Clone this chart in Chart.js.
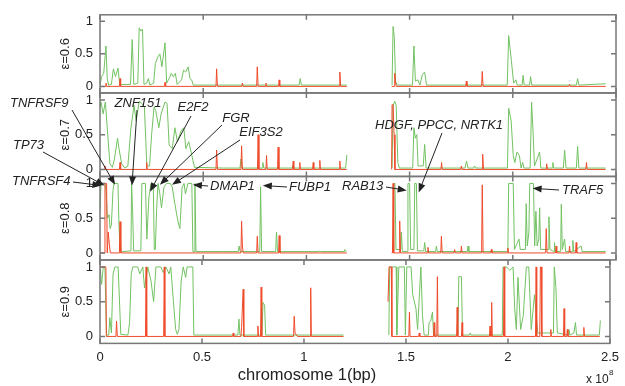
<!DOCTYPE html>
<html>
<head>
<meta charset="utf-8">
<script src="https://cdn.jsdelivr.net/npm/chart.js@4"></script>
<style>
  body { margin: 0; background: #fff; }
  #wrap { position: relative; width: 625px; height: 386px; }
  #wrap canvas { position: absolute; left: 0; top: 0; }
</style>
</head>
<body>
<div id="wrap">
  <canvas id="c06" width="625" height="386"></canvas>
  <canvas id="c07" width="625" height="386"></canvas>
  <canvas id="c09" width="625" height="386"></canvas>
  <canvas id="c08" width="625" height="386"></canvas>
</div>
<script>
// positions in Mb along chromosome 1, values are the plotted fraction
// null marks the centromere gap
const green06 = [[0,0.02],[0.8,0.15],[1.8,0.2],[2.9,0.62],[3.5,0.12],[4.2,0.02],[5.5,0.03],[6.5,0.27],[7.5,0.15],[8.7,0.28],[9.6,0.03],[14.8,0.03],[15.6,0.72],[16.4,0.03],[18.3,0.05],[19.0,0.9],[19.8,0.85],[20.6,0.88],[21.3,0.03],[22.6,0.05],[23.4,0.12],[24.2,0.02],[26.0,0.05],[26.8,0.35],[28,0.45],[29,0.5],[30,0.3],[31.5,0.67],[32.3,0.05],[33.5,0.12],[34.5,0.2],[35.5,0.15],[36.5,0.2],[37.4,0.03],[39.5,0.1],[40.5,0.25],[41.5,0.22],[42.7,0.3],[43.6,0.12],[44.4,0.1],[45.2,0.02],[96.5,0.02],[97,0.12],[97.6,0.02],[119.6,0.02],[130,null],
  [141.5,0.02],[142,0.92],[142.6,0.75],[143.2,0.08],[144,0.02],[151.4,0.02],[152.1,0.62],[152.8,0.08],[154,0.1],[155,0.02],[156.2,0.18],[157.3,0.22],[158.2,0.02],[197.3,0.02],[198,0.78],[199.3,0.4],[200.4,0.05],[201.5,0.1],[202.2,0.02],[204.5,0.02],[205,0.17],[205.5,0.02],[208.1,0.02],[208.6,0.15],[209.2,0.02],[230.8,0.02],[231.4,0.12],[232,0.02],[245,0.04]];
const red06 = [[0,0],[2.6,0],[2.9,0.05],[3.2,0],[9.4,0],[9.7,0.12],[10,0],[31.2,0],[31.5,0.06],[31.8,0],[56.2,0],[56.5,0.27],[56.9,0],[68.7,0],[69,0.05],[69.3,0],[75.9,0],[76.2,0.3],[76.6,0],[80.1,0],[80.4,0.05],[80.7,0],[86.5,0],[86.8,0.1],[87.1,0],[115.9,0],[116.2,0.22],[116.6,0],[119.6,0],[130,null],
  [141.3,0],[142.5,0],[142.8,0.2],[143.2,0.05],[143.6,0],[177.2,0],[177.5,0.08],[177.8,0],[184.9,0],[185.2,0.23],[185.6,0],[227.2,0],[227.5,0.03],[227.8,0],[245,0]];

const green07 = [[0,0.9],[0.5,0.97],[1.5,0.8],[2.6,0.97],[3.5,0.6],[4.8,0.08],[6,0.03],[7,0.15],[8.5,0.45],[9.2,0.3],[10.5,0.08],[12,0.02],[13.5,0.05],[15,0.6],[16.5,0.92],[17.5,0.7],[19,0.98],[20.3,0.95],[21.5,0.9],[22.7,0.05],[24,0.05],[25,0.5],[26.2,0.9],[27,0.85],[28.5,0.6],[29.6,0.8],[31.5,0.97],[32.5,0.95],[33.5,0.35],[35,0.3],[36.3,0.6],[37.5,0.4],[39.2,0.55],[40.6,0.6],[41.6,0.3],[43,0.4],[44.5,0.2],[45.8,0.03],[60,0.02],[67.8,0.02],[68.3,0.15],[68.8,0.02],[78.5,0.02],[78.9,0.1],[79.4,0.02],[93,0.02],[93.5,0.06],[94,0.02],[119,0.02],[119.6,0.21],[130,null],
  [141.5,0.02],[142,0.92],[142.8,0.98],[143.5,0.92],[144.3,0.1],[145,0.02],[151.5,0.02],[152.1,0.6],[152.8,0.45],[153.5,0.5],[154.1,0.05],[156.6,0.05],[157.3,0.36],[158,0.02],[176.8,0.02],[177.6,0.12],[178.3,0.02],[181,0.02],[181.5,0.05],[182,0.02],[197.4,0.02],[198,0.88],[199.2,0.7],[200.2,0.2],[201,0.1],[202,0.25],[203.2,0.2],[204,0.02],[204.8,0.1],[205.4,0.02],[208.4,0.02],[209.1,0.97],[209.8,0.55],[210.5,0.05],[213,0.25],[213.6,0.02],[219,0.02],[219.4,0.1],[219.9,0.02],[224.5,0.02],[225.1,0.28],[225.8,0.02],[230.8,0.02],[231.4,0.33],[232,0.02],[245,0.02]];
const red07 = [[0,0],[2.1,0],[2.4,0.05],[2.7,0],[9.4,0],[9.7,0.1],[10,0],[22.3,0],[22.6,0.1],[22.9,0],[56.2,0],[56.5,0.28],[56.9,0],[68.3,0],[68.6,0.34],[69,0],[76.3,0],[76.6,0.5],[77,0],[80.4,0],[80.7,0.2],[81,0],[86,0],[86.3,0.32],[86.7,0],[93.3,0],[93.6,0.12],[93.9,0],[96.5,0],[96.8,0.1],[97.1,0],[103,0],[103.3,0.1],[103.6,0],[106.2,0],[106.5,0.13],[106.8,0],[115.9,0],[116.2,0.12],[116.5,0],[119.6,0],[130,null],
  [141.3,0],[141.5,0.93],[142,0.93],[142.5,0.5],[142.9,0],[165.2,0],[165.5,0.1],[165.8,0],[174.8,0],[175.1,0.05],[175.4,0],[185.1,0],[185.4,0.22],[185.8,0],[216.1,0],[216.4,0.08],[216.7,0],[235.4,0],[235.7,0.1],[236,0],[245,0]];

const green08 = [[0,0.6],[0.5,1],[2.4,1],[2.9,0.9],[3.6,0.5],[4.4,0.55],[4.9,0.35],[5.5,0.4],[6.3,0.9],[6.8,1],[8.7,1],[9.2,0.4],[9.7,0.05],[11,0.02],[15,0.03],[15.3,1],[15.8,0.6],[16.3,0.03],[19.8,0.03],[20.3,1],[22,1],[22.7,0.2],[23.7,0.8],[24.7,1],[25.8,1],[26.3,0.05],[26.8,0.05],[27.4,0.6],[28.1,1],[29,0.85],[29.8,0.65],[31,0.95],[32.2,1],[34,1],[35,0.95],[36.3,0.7],[37.8,0.45],[38.7,0.35],[39.8,0.95],[40.7,1],[41.4,0.85],[42.6,1],[44.5,1],[45,0.02],[45.8,0.02],[46,1],[46.5,0.02],[60,0.02],[67,0.02],[67.4,0.1],[67.9,0.02],[77.4,0.02],[77.8,0.95],[78.3,0.02],[85.1,0.02],[85.5,0.3],[86,0.02],[106.1,0.02],[106.5,0.03],[106.9,0.02],[118.3,0.02],[118.6,0.05],[119.4,0.02],[130,null],
  [142,0.02],[142.3,1],[142.9,1],[143.4,0.05],[145.7,0.05],[146,0.3],[146.5,0.02],[148.8,0.02],[149.2,1],[150,1],[150.5,0.05],[152.1,0.05],[152.5,1],[153.3,1],[153.8,0.03],[156.9,0.03],[157.3,0.15],[157.8,0.02],[162.6,0.02],[163,0.1],[163.4,0.02],[178,0.02],[178.3,0.1],[178.7,0.02],[197.6,0.02],[198,1],[200.2,1],[200.8,0.05],[203,0.2],[203.6,0.05],[206.1,0.05],[206.5,0.71],[207,0.1],[207.8,0.3],[208.2,1],[210,1],[210.6,0.1],[211.2,0.6],[211.8,0.1],[212.6,0.2],[213,0.65],[213.5,0.05],[217.1,0.05],[217.5,0.52],[218,0.05],[220,0.02],[220.2,0.15],[220.6,0.02],[223.2,0.02],[223.5,0.7],[224,0.05],[225.1,0.2],[225.6,0.02],[228.8,0.02],[229.1,0.18],[229.5,0.02],[233.1,0.1],[233.6,0.02],[245,0.02]];
const red08 = [[0,0],[2,0],[2.4,1],[3.2,1],[3.5,0],[4,0.3],[4.6,0.1],[5,0],[9.4,0],[9.7,0.45],[10.1,0],[68.3,0],[68.6,0.46],[69,0.1],[69.4,0],[75.9,0],[76.2,0.24],[76.6,0],[86.5,0],[86.8,0.25],[87.2,0],[119.6,0],[130,null],
  [141.3,0],[141.7,0],[142,1],[142.3,0],[144.9,0],[145.2,0.46],[145.6,0],[158.6,0],[158.9,0.08],[159.2,0],[165.1,0],[165.4,0.24],[165.8,0],[171.5,0],[171.8,0.05],[172.1,0],[174.8,0],[175.1,0.1],[175.4,0],[184.9,0],[185.2,0.98],[185.6,0],[189.3,0],[189.6,0.05],[189.9,0],[197.3,0],[197.6,0.07],[197.9,0],[215.9,0],[216.2,0.35],[216.6,0],[220.7,0],[221,0.1],[221.3,0],[227.2,0],[227.5,0.1],[227.8,0],[230.4,0],[230.7,0.15],[231,0],[245,0]];

const green09 = [[0,1],[0.8,0.75],[1.6,1],[2.4,1],[3.2,0.02],[4.3,0.02],[4.8,0.27],[5.6,0.05],[6.4,0.9],[7.3,1],[8.9,1],[10.2,0.03],[13.7,0.02],[14.5,0.2],[15.3,0.9],[16.1,1],[18.5,1],[19.5,0.9],[21,1],[21.8,0.7],[23.4,1],[25,0.8],[26.3,0.5],[27.4,1],[29.8,1],[31,0.92],[32.3,1],[33.9,0.9],[34.7,1],[36,0.5],[37.1,0.1],[37.9,0.03],[38.7,0.1],[39.8,0.8],[40.8,1],[42,0.85],[42.7,1],[45.5,1],[46,0.02],[67.6,0.02],[68.1,0.25],[68.6,0.02],[79.4,0.02],[79.9,0.49],[80.7,0.45],[81.2,0.02],[119.4,0.02],[130,null],
  [141.6,0.02],[142,1],[143.6,1],[145.2,1],[145.5,0.02],[146.5,1],[149.2,1],[149.7,0.02],[150.4,1],[152.5,1],[153.3,0.6],[154.9,0.4],[155.7,0.1],[157.3,1],[158.1,0.3],[158.9,0.02],[161,0.02],[161.3,0.2],[162.1,0.22],[163,0.35],[163.5,0.02],[175.5,0.02],[175.9,0.86],[177.2,0.86],[177.7,0.02],[181.2,0.02],[181.5,0.05],[181.9,0.02],[197.2,0.02],[197.6,1],[199.3,1],[200.9,0.95],[202.5,1],[203.3,0.4],[204.1,0.1],[204.9,0.85],[206.2,0.1],[207.5,0.3],[209,1],[210.2,1],[211.4,0.1],[213,0.6],[214.6,0.05],[222.3,0.05],[222.7,1],[223.5,0.7],[224.2,0.05],[229.6,0.02],[229.9,0.1],[230.3,0.02],[232.3,0.05],[233.1,0.2],[233.6,0.02],[244.8,0.02],[245.3,0.23]];
const red09 = [[0,1],[2.9,1],[3.1,0],[7.8,0],[8.1,0.22],[8.5,0],[22.3,0],[22.6,1],[22.9,0],[31.2,0],[31.5,1],[31.8,0],[65,0],[65.3,0.05],[65.6,0],[69.1,0],[69.4,0.13],[70.2,0.68],[70.5,0],[77.1,0],[77.4,0.15],[77.7,0],[78.7,0],[79,0.71],[79.3,0],[94.9,0],[95.2,0.29],[95.6,0.05],[96.8,0],[103,0],[103.3,0.7],[103.6,0],[119.4,0],[130,null],
  [141.2,0.5],[141.7,1],[142.8,1],[143.1,0],[151.4,0],[151.7,0.35],[152,0],[156.2,0],[156.5,0.05],[156.8,0],[163.5,0],[163.8,0.2],[164.1,0],[165.1,0],[165.4,0.86],[165.7,0],[174.8,0],[175.1,0.42],[175.4,0],[177.2,0],[177.5,0.2],[177.8,0],[190.9,0],[191.2,0.15],[191.6,0],[191.7,0],[192,0.49],[192.3,0],[197.8,0],[198.1,1],[198.4,0],[213.5,0],[213.8,1],[214.1,0],[215.6,0],[215.9,1],[216.3,1],[216.6,0],[220.7,0],[221,0.1],[221.3,0],[227.2,0],[227.5,0.4],[227.8,0],[228.8,0],[229.1,0.1],[229.4,0],[236.9,0],[237.2,0.13],[237.5,0],[245,0]];

const xTicks = [0, 50, 100, 150, 200, 250];
const yTicks = [0, 0.5, 1];

// genes marked in the eps=0.8 panel
const annoGenes = ['TNFRSF4', 'TP73', 'TNFRSF9', 'ZNF151', 'E2F2', 'FGR', 'EIF3S2', 'DMAP1', 'FUBP1', 'RAB13', 'HDGF, PPCC, NRTK1', 'TRAF5'];
const annoMb = [0.7, 2.2, 7.3, 15.5, 24.2, 29, 34.9, 45, 78.9, 148.6, 154.4, 209.6];
const annoVal = [0.97, 0.97, 0.98, 0.97, 0.88, 0.98, 0.98, 0.98, 0.97, 0.9, 0.87, 0.93];

// where each label sits and where its arrow starts (pixels)
const annoLayout = [
  { tx: 12, ty: 181, align: 'left', lx: 73, ly: 182 },
  { tx: 13, ty: 145, align: 'left', lx: 43, ly: 152 },
  { tx: 10, ty: 103, align: 'left', lx: 72, ly: 110 },
  { tx: 138, ty: 103, align: 'center', lx: 137, ly: 110 },
  { tx: 193, ty: 107, align: 'center', lx: 191, ly: 116 },
  { tx: 236, ty: 118, align: 'center', lx: 222, ly: 125 },
  { tx: 261, ty: 132, align: 'center', lx: 240, ly: 140 },
  { tx: 210, ty: 186, align: 'left', lx: 208, ly: 186 },
  { tx: 289, ty: 187, align: 'left', lx: 287, ly: 187 },
  { tx: 342, ty: 186, align: 'left', lx: 386, ly: 187 },
  { tx: 375, ty: 125, align: 'left', lx: 442, ly: 133 },
  { tx: 562, ty: 190, align: 'left', lx: 559, ly: 190 }
];

const GREEN = '#72c262';
const RED = '#ef4b2b';
const FRAME = '#777';
const TEXT = '#222';
const panelTops = [9.5, 93, 176.5, 260];
const PANEL_H = 83.4;

Chart.defaults.font.family = "'Liberation Sans', Arial, sans-serif";

const toXY = arr => arr.map(p => ({ x: p[0], y: p[1] }));

const frame = {
  id: 'frame',
  afterDatasetsDraw(chart) {
    const { ctx, chartArea: a, scales: { x, y } } = chart;
    ctx.save();
    ctx.strokeStyle = FRAME;
    ctx.lineWidth = 1.5;
    ctx.strokeRect(a.left, a.top, a.right - a.left, a.bottom - a.top);
    ctx.beginPath();
    xTicks.forEach(v => {
      const px = x.getPixelForValue(v);
      ctx.moveTo(px, a.top); ctx.lineTo(px, a.top + 5);
      ctx.moveTo(px, a.bottom); ctx.lineTo(px, a.bottom - 5);
    });
    yTicks.forEach(v => {
      const py = y.getPixelForValue(v);
      ctx.moveTo(a.left, py); ctx.lineTo(a.left + 5, py);
      ctx.moveTo(a.right, py); ctx.lineTo(a.right - 5, py);
    });
    ctx.stroke();
    ctx.restore();
  }
};

const arrows = {
  id: 'arrows',
  afterDraw(chart) {
    const { ctx, scales: { x, y } } = chart;
    ctx.save();
    ctx.font = 'italic 13px "Liberation Sans", Arial, sans-serif';
    ctx.fillStyle = TEXT;
    ctx.strokeStyle = TEXT;
    ctx.lineWidth = 1;
    ctx.textBaseline = 'middle';
    annoGenes.forEach((g, i) => {
      const L = annoLayout[i];
      ctx.textAlign = L.align;
      ctx.fillText(g, L.tx, L.ty);
      const tx = x.getPixelForValue(annoMb[i]);
      const ty = y.getPixelForValue(annoVal[i]);
      const ang = Math.atan2(ty - L.ly, tx - L.lx);
      ctx.beginPath();
      ctx.moveTo(L.lx, L.ly);
      ctx.lineTo(tx - 6 * Math.cos(ang), ty - 6 * Math.sin(ang));
      ctx.stroke();
      ctx.beginPath();
      ctx.moveTo(tx, ty);
      ctx.lineTo(tx - 9 * Math.cos(ang) + 3.5 * Math.sin(ang), ty - 9 * Math.sin(ang) - 3.5 * Math.cos(ang));
      ctx.lineTo(tx - 9 * Math.cos(ang) - 3.5 * Math.sin(ang), ty - 9 * Math.sin(ang) + 3.5 * Math.cos(ang));
      ctx.closePath();
      ctx.fill();
    });
    ctx.restore();
  }
};

const bottomText = {
  id: 'bottomText',
  afterDraw(chart) {
    const { ctx } = chart;
    ctx.save();
    ctx.fillStyle = TEXT;
    ctx.textBaseline = 'middle';
    ctx.textAlign = 'center';
    ctx.font = '16.5px "Liberation Sans", Arial, sans-serif';
    ctx.fillText('chromosome 1(bp)', 307, 375);
    ctx.textAlign = 'left';
    ctx.font = '12px "Liberation Sans", Arial, sans-serif';
    ctx.fillText('x 10', 586, 380);
    ctx.font = '8px "Liberation Sans", Arial, sans-serif';
    ctx.fillText('8', 609, 373);
    ctx.restore();
  }
};

function panel(id, idx, label, green, red, extra) {
  const last = idx === 3;
  const top = panelTops[idx];
  return new Chart(document.getElementById(id), {
    type: 'line',
    data: {
      datasets: [
        { data: toXY(red), borderColor: RED, borderWidth: 1, pointRadius: 0, tension: 0 },
        { data: toXY(green), borderColor: GREEN, borderWidth: 1, pointRadius: 0, tension: 0 }
      ]
    },
    options: {
      responsive: false,
      animation: false,
      events: [],
      layout: { padding: { left: 53, right: 9, top: top, bottom: last ? 0 : 386 - top - PANEL_H } },
      plugins: { legend: { display: false }, tooltip: { enabled: false } },
      scales: {
        x: {
          type: 'linear', min: 0, max: 250, display: last,
          grid: { display: false, drawTicks: false }, border: { display: false },
          ticks: { stepSize: 50, font: { size: 13 }, color: TEXT, padding: 6, maxRotation: 0, autoSkip: false,
                   callback: v => String(v / 100) },
          afterFit: s => { s.height = last ? 386 - top - PANEL_H : 0; }
        },
        y: {
          min: -0.1, max: 1.1,
          grid: { display: false, drawTicks: false }, border: { display: false },
          afterBuildTicks: s => { s.ticks = yTicks.map(v => ({ value: v })); },
          ticks: { font: { size: 13 }, color: TEXT, padding: 7, callback: v => String(v) },
          title: { display: true, text: label, font: { size: 13 }, color: TEXT, padding: { top: 5, bottom: 0 } },
          afterFit: s => { s.width = 47; }
        }
      }
    },
    plugins: [frame].concat(extra || [])
  });
}

panel('c06', 0, 'ε=0.6', green06, red06);
panel('c07', 1, 'ε=0.7', green07, red07);
panel('c09', 3, 'ε=0.9', green09, red09, [bottomText]);
panel('c08', 2, 'ε=0.8', green08, red08, [arrows]);
</script>
</body>
</html>
